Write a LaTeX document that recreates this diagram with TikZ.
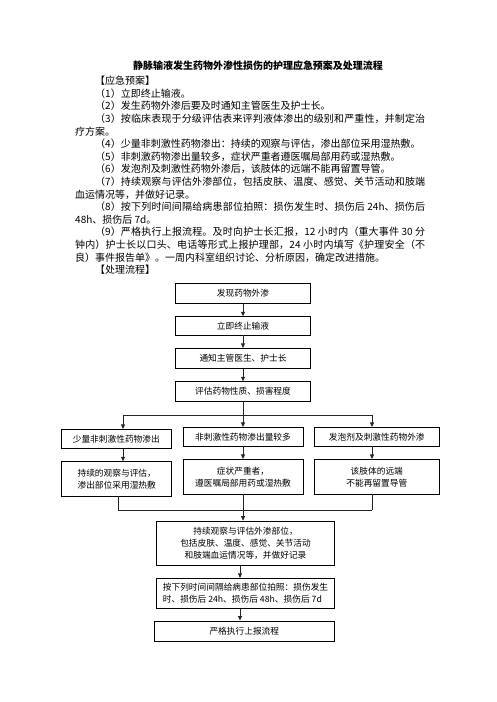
\documentclass[tikz,border=0pt]{standalone}
\usepackage{fontspec}
\setmainfont{Noto Sans CJK SC}
\XeTeXlinebreaklocale "zh"
\XeTeXlinebreakskip=0pt plus 1pt
\usetikzlibrary{arrows.meta}
\newcommand\jline[2]{\parbox[b]{#1}{\parfillskip=0pt\relax #2}}
\begin{document}
\begin{tikzpicture}[x=1pt,y=-1pt,
  bodyline/.style={anchor=base west, inner sep=0pt, font=\fontsize{10}{12}\selectfont},
  fbox/.style={draw, line width=0.8pt, inner sep=0pt, align=center, font=\fontsize{8.7}{12}\selectfont},
  ln/.style={line width=0.8pt, draw=black!85},
  arr/.style={ln, -{Triangle[width=4pt,length=4.5pt]}}]
\fill[white] (0,0) rectangle (496,702);
\useasboundingbox (0,0) rectangle (496,702);
% title
\node[anchor=base, inner sep=0pt, font=\fontsize{10}{12}\selectfont\bfseries] (title) at (258,69.6) {静脉输液发生药物外渗性损伤的护理应急预案及处理流程};
% body text
\node[bodyline] (t0) at (95,84.6) {【应急预案】};
\node[bodyline] (t1) at (95,97.2) {（1）立即终止输液。};
\node[bodyline] (t2) at (95,109.8) {（2）发生药物外渗后要及时通知主管医生及护士长。};
\node[bodyline] (t3) at (95,122.4) {\jline{330pt}{（3）按临床表现于分级评估表来评判液体渗出的级别和严重性，并制定治}};
\node[bodyline] (t4) at (75,135.0) {疗方案。};
\node[bodyline] (t5) at (95,147.6) {（4）少量非刺激性药物渗出：持续的观察与评估，渗出部位采用湿热敷。};
\node[bodyline] (t6) at (95,160.2) {（5）非刺激药物渗出量较多，症状严重者遵医嘱局部用药或湿热敷。};
\node[bodyline] (t7) at (95,172.8) {（6）发泡剂及刺激性药物外渗后，该肢体的远端不能再留置导管。};
\node[bodyline] (t8) at (95,185.4) {\jline{330pt}{（7）持续观察与评估外渗部位，包括皮肤、温度、感觉、关节活动和肢端}};
\node[bodyline] (t9) at (75,198.0) {血运情况等，并做好记录。};
\node[bodyline] (t10) at (95,210.6) {\jline{330pt}{（8）按下列时间间隔给病患部位拍照：损伤发生时、损伤后 24h、损伤后}};
\node[bodyline] (t11) at (75,223.2) {48h、损伤后 7d。};
\node[bodyline] (t12) at (95,235.8) {\jline{330pt}{（9）严格执行上报流程。及时向护士长汇报，12 小时内（重大事件 30 分}};
\node[bodyline] (t13) at (75,248.4) {\jline{350pt}{钟内）护士长以口头、电话等形式上报护理部，24 小时内填写《护理安全（不}};
\node[bodyline] (t14) at (75,261.0) {良）事件报告单》。一周内科室组织讨论、分析原因，确定改进措施。};
\node[bodyline] (t15) at (95,273.6) {【处理流程】};
% flowchart boxes
\node[fbox, minimum width=135pt, minimum height=20pt] (b1) at (243,293.3) {发现药物外渗};
\node[fbox, minimum width=135pt, minimum height=18.3pt] (b2) at (243,325.8) {立即终止输液};
\node[fbox, minimum width=135pt, minimum height=20pt] (b3) at (243,358.3) {通知主管医生、护士长};
\node[fbox, minimum width=135pt, minimum height=19.3pt] (b4) at (243,391.3) {评估药物性质、损害程度};
\node[fbox, minimum width=109.3pt, minimum height=19pt] (L1) at (116.3,438.8) {少量非刺激性药物渗出};
\node[fbox, minimum width=120pt, minimum height=18.7pt] (M1) at (243,436.7) {非刺激性药物渗出量较多};
\node[fbox, minimum width=125pt, minimum height=18.7pt] (R1) at (376.8,436.7) {发泡剂及刺激性药物外渗};
\node[fbox, minimum width=110pt, minimum height=34.3pt] (L2) at (116.7,478.8) {持续的观察与评估，\\渗出部位采用湿热敷};
\node[fbox, minimum width=120pt, minimum height=34.7pt] (M2) at (243,476.7) {症状严重者，\\遵医嘱局部用药或湿热敷};
\node[fbox, minimum width=125pt, minimum height=34.7pt] (R2) at (376.8,476.7) {该肢体的远端\\不能再留置导管};
\node[fbox, minimum width=177.6pt, minimum height=44.3pt] (b5) at (245.5,543.2) {持续观察与评估外渗部位，\\包括皮肤、温度、感觉、关节活动\\和肢端血运情况等，并做好记录};
\node[fbox, align=left, minimum width=177.6pt, minimum height=30pt] (b6) at (245.5,593.3) {按下列时间间隔给病患部位拍照：损伤发生\\时、损伤后 24h、损伤后 48h、损伤后 7d};
\node[fbox, minimum width=180pt, minimum height=20.7pt] (b7) at (244.3,631.3) {严格执行上报流程};
% helper coordinates
\coordinate (br) at (243,415);
\coordinate (brL) at (123,415);
\coordinate (brR) at (372,415);
\coordinate (bot) at (243,510);
\coordinate (botL) at (118,510);
\coordinate (botR) at (372,510);
\coordinate (ax) at (240,0);
% connectors
\draw[arr] (b1.south) -- (b2.north);
\draw[arr] (b2.south) -- (b3.north);
\draw[arr] (b3.south) -- (b4.north);
\draw[ln] (b4.south) -- (br);
\draw[ln] (brL) -- (brR);
\draw[arr] (br) -- (M1.north);
\draw[arr] (brL) -- (L1.north -| brL);
\draw[arr] (brR) -- (R1.north -| brR);
\draw[arr] (L1.south -| brL) -- (L2.north -| brL);
\draw[arr] (M1.south) -- (M2.north);
\draw[arr] (R1.south -| brR) -- (R2.north -| brR);
\draw[ln] (L2.south -| botL) -- (botL);
\draw[ln] (M2.south) -- (bot);
\draw[ln] (R2.south -| botR) -- (botR);
\draw[ln] (botL) -- (botR);
\draw[arr] (bot) -- (b5.north -| bot);
\draw[arr] (b5.south -| ax) -- (b6.north -| ax);
\draw[arr] (b6.south -| ax) -- (b7.north -| ax);
\end{tikzpicture}
\end{document}
